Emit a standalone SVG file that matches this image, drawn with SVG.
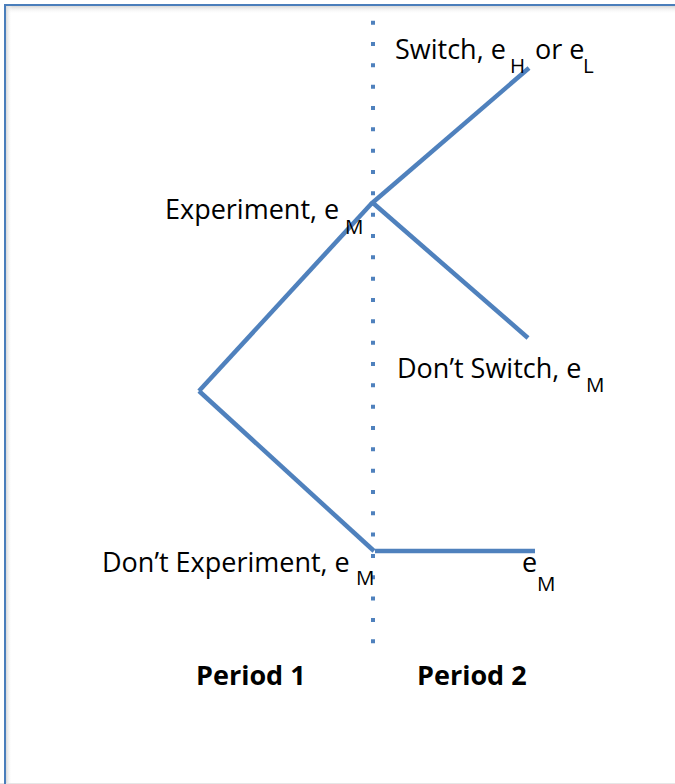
<svg xmlns="http://www.w3.org/2000/svg" width="675" height="784" viewBox="0 0 675 784">
  <style>
    .lbl { font-family: "Open Sans", "Liberation Sans", sans-serif; font-size: 27px; fill: #000; }
    .sub { font-size: 20.5px; }
    .bold { font-weight: bold; }
    .edge { stroke: #4f81bd; stroke-width: 4.5; fill: none; stroke-linecap: butt; }
    .divider { stroke: #4f81bd; stroke-width: 4; stroke-dasharray: 4 17.33; fill: none; }
  </style>
  <defs>
    <linearGradient id="shTop" x1="0" y1="0" x2="0" y2="1">
      <stop offset="0" stop-color="#d8d8d8"/>
      <stop offset="1" stop-color="#ffffff" stop-opacity="0"/>
    </linearGradient>
    <linearGradient id="shLeft" x1="0" y1="0" x2="1" y2="0">
      <stop offset="0" stop-color="#d8d8d8"/>
      <stop offset="1" stop-color="#ffffff" stop-opacity="0"/>
    </linearGradient>
  </defs>
  <rect x="0" y="0" width="675" height="784" fill="#ffffff"/>
  <g id="frame">
    <rect x="6" y="6" width="669" height="8" fill="url(#shTop)"/>
    <rect x="6" y="6" width="6" height="778" fill="url(#shLeft)"/>
    <line x1="0" y1="783.5" x2="675" y2="783.5" stroke="#e6e6e6" stroke-width="1"/>
    <path d="M5,784 V5 H675" fill="none" stroke="#4a7ebb" stroke-width="2"/>
  </g>
  <g id="divider">
    <line class="divider" x1="373" y1="20.7" x2="373" y2="645"/>
  </g>
  <g id="connectors">
    <line class="edge" x1="199" y1="391" x2="372" y2="203"/>
    <line class="edge" x1="199" y1="391" x2="374" y2="551"/>
    <line class="edge" x1="371" y1="204" x2="529" y2="68"/>
    <line class="edge" x1="373" y1="203" x2="528" y2="338"/>
    <line class="edge" x1="375" y1="551" x2="535" y2="551"/>
  </g>
  <g id="node-switch">
    <text class="lbl"><tspan x="395" y="59">Switch, e</tspan><tspan class="sub" x="510" y="73">H</tspan><tspan x="535" y="59">or e</tspan><tspan class="sub" x="583" y="73">L</tspan></text>
  </g>
  <g id="node-experiment">
    <text class="lbl"><tspan x="165" y="219">Experiment, e</tspan><tspan class="sub" x="345" y="234">M</tspan></text>
  </g>
  <g id="node-dont-switch">
    <text class="lbl"><tspan x="397" y="378">Don’t Switch, e</tspan><tspan class="sub" x="586" y="392">M</tspan></text>
  </g>
  <g id="node-dont-experiment">
    <text class="lbl"><tspan x="102" y="572">Don’t Experiment, e</tspan><tspan class="sub" x="356" y="585">M</tspan></text>
  </g>
  <g id="node-em">
    <text class="lbl"><tspan x="522" y="572">e</tspan><tspan class="sub" x="537" y="591">M</tspan></text>
  </g>
  <g id="node-period1">
    <text class="lbl bold" x="196" y="685">Period 1</text>
  </g>
  <g id="node-period2">
    <text class="lbl bold" x="417" y="685">Period 2</text>
  </g>
</svg>
